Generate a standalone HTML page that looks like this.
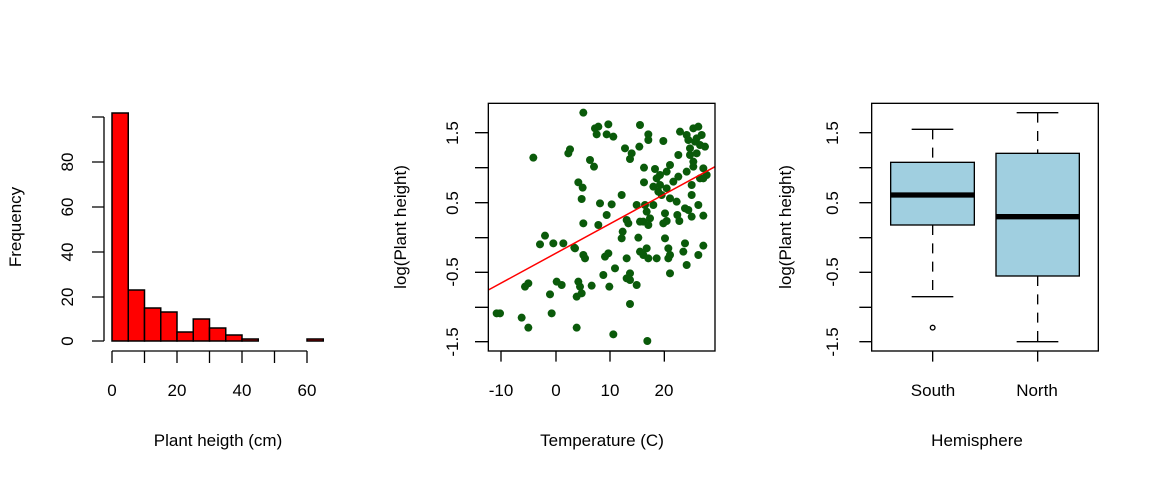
<!DOCTYPE html>
<html><head><meta charset="utf-8"><style>
html,body{margin:0;padding:0;background:#fff}
svg{display:block}
text{font-family:"Liberation Sans",Arial,sans-serif;font-size:17px;fill:#000}
</style></head><body>
<svg width="1152" height="480" xmlns="http://www.w3.org/2000/svg">
<!-- Histogram -->
<g stroke="#000" stroke-width="1.5" fill="#ff0000">
<rect x="112" y="113" width="16.25" height="228"/>
<rect x="128.25" y="290" width="16.25" height="51"/>
<rect x="144.5" y="308" width="16.25" height="33"/>
<rect x="160.75" y="312" width="16.25" height="29"/>
<rect x="177" y="332" width="16.25" height="9"/>
<rect x="193.25" y="319" width="16.25" height="22"/>
<rect x="209.5" y="328" width="16.25" height="13"/>
<rect x="225.75" y="335" width="16.25" height="6"/>
<rect x="242" y="339" width="16.25" height="2"/>
<rect x="258.25" y="341" width="16.25" height="0"/>
<rect x="274.5" y="341" width="16.25" height="0"/>
<rect x="290.75" y="341" width="16.25" height="0"/>
<rect x="307" y="339" width="16.25" height="2"/>
</g>
<g stroke="#000" stroke-width="1.3" fill="none">
<path d="M104 117V341 M92 117H104 M92 162H104 M92 207H104 M92 252H104 M92 297H104 M92 341H104"/>
<path d="M112 351H307 M112 351V363 M144.5 351V363 M177 351V363 M209.5 351V363 M242 351V363 M274.5 351V363 M307 351V363"/>
</g>
<g text-anchor="middle">
<text transform="translate(73,341) rotate(-90)">0</text>
<text transform="translate(73,297) rotate(-90)">20</text>
<text transform="translate(73,252) rotate(-90)">40</text>
<text transform="translate(73,207) rotate(-90)">60</text>
<text transform="translate(73,162) rotate(-90)">80</text>
<text x="112" y="396">0</text><text x="177" y="396">20</text><text x="242" y="396">40</text><text x="307" y="396">60</text>
<text x="218" y="446">Plant heigth (cm)</text>
<text transform="translate(21,227) rotate(-90)">Frequency</text>
</g>
<!-- Scatter -->
<g transform="translate(440,95) scale(0.33333)">
<g fill="#0a5a0a">
<circle cx="430" cy="53" r="12"/><circle cx="280" cy="188" r="12"/><circle cx="390" cy="163" r="12"/><circle cx="385" cy="175" r="12"/><circle cx="450" cy="195" r="12"/><circle cx="462" cy="215" r="12"/><circle cx="415" cy="262" r="12"/><circle cx="428" cy="278" r="12"/><circle cx="425" cy="312" r="12"/><circle cx="465" cy="100" r="12"/><circle cx="475" cy="95" r="12"/><circle cx="470" cy="118" r="12"/><circle cx="505" cy="88" r="12"/><circle cx="500" cy="118" r="12"/><circle cx="520" cy="125" r="12"/><circle cx="600" cy="90" r="12"/><circle cx="625" cy="118" r="12"/><circle cx="625" cy="135" r="12"/><circle cx="598" cy="155" r="12"/><circle cx="555" cy="160" r="12"/><circle cx="575" cy="175" r="12"/><circle cx="570" cy="192" r="12"/><circle cx="670" cy="138" r="12"/><circle cx="612" cy="218" r="12"/><circle cx="645" cy="222" r="12"/><circle cx="660" cy="240" r="12"/><circle cx="680" cy="230" r="12"/><circle cx="690" cy="210" r="12"/><circle cx="612" cy="262" r="12"/><circle cx="650" cy="250" r="12"/><circle cx="640" cy="275" r="12"/><circle cx="655" cy="290" r="12"/><circle cx="665" cy="300" r="12"/><circle cx="680" cy="280" r="12"/><circle cx="690" cy="310" r="12"/><circle cx="715" cy="245" r="12"/><circle cx="720" cy="110" r="12"/><circle cx="715" cy="180" r="12"/><circle cx="740" cy="120" r="12"/><circle cx="760" cy="100" r="12"/><circle cx="775" cy="95" r="12"/><circle cx="770" cy="130" r="12"/><circle cx="750" cy="160" r="12"/><circle cx="780" cy="150" r="12"/><circle cx="795" cy="155" r="12"/><circle cx="760" cy="200" r="12"/><circle cx="740" cy="230" r="12"/><circle cx="790" cy="220" r="12"/><circle cx="800" cy="240" r="12"/><circle cx="780" cy="250" r="12"/><circle cx="755" cy="270" r="12"/><circle cx="755" cy="300" r="12"/><circle cx="735" cy="340" r="12"/><circle cx="775" cy="330" r="12"/><circle cx="755" cy="365" r="12"/><circle cx="790" cy="362" r="12"/><circle cx="710" cy="320" r="12"/><circle cx="712" cy="360" r="12"/><circle cx="718" cy="378" r="12"/><circle cx="675" cy="355" r="12"/><circle cx="680" cy="378" r="12"/><circle cx="670" cy="385" r="12"/><circle cx="675" cy="430" r="12"/><circle cx="685" cy="460" r="12"/><circle cx="650" cy="490" r="12"/><circle cx="685" cy="490" r="12"/><circle cx="690" cy="535" r="12"/><circle cx="740" cy="510" r="12"/><circle cx="735" cy="445" r="12"/><circle cx="775" cy="480" r="12"/><circle cx="730" cy="470" r="12"/><circle cx="790" cy="452" r="12"/><circle cx="620" cy="460" r="12"/><circle cx="610" cy="480" r="12"/><circle cx="600" cy="470" r="12"/><circle cx="625" cy="490" r="12"/><circle cx="620" cy="350" r="12"/><circle cx="610" cy="380" r="12"/><circle cx="625" cy="390" r="12"/><circle cx="600" cy="380" r="12"/><circle cx="590" cy="330" r="12"/><circle cx="615" cy="330" r="12"/><circle cx="640" cy="330" r="12"/><circle cx="595" cy="428" r="12"/><circle cx="560" cy="375" r="12"/><circle cx="565" cy="385" r="12"/><circle cx="548" cy="410" r="12"/><circle cx="545" cy="430" r="12"/><circle cx="545" cy="300" r="12"/><circle cx="500" cy="360" r="12"/><circle cx="480" cy="325" r="12"/><circle cx="515" cy="328" r="12"/><circle cx="475" cy="390" r="12"/><circle cx="430" cy="385" r="12"/><circle cx="405" cy="460" r="12"/><circle cx="430" cy="480" r="12"/><circle cx="435" cy="490" r="12"/><circle cx="495" cy="485" r="12"/><circle cx="505" cy="475" r="12"/><circle cx="525" cy="520" r="12"/><circle cx="490" cy="540" r="12"/><circle cx="560" cy="490" r="12"/><circle cx="570" cy="535" r="12"/><circle cx="560" cy="550" r="12"/><circle cx="570" cy="555" r="12"/><circle cx="590" cy="570" r="12"/><circle cx="508" cy="575" r="12"/><circle cx="455" cy="572" r="12"/><circle cx="415" cy="560" r="12"/><circle cx="420" cy="575" r="12"/><circle cx="425" cy="595" r="12"/><circle cx="410" cy="605" r="12"/><circle cx="365" cy="570" r="12"/><circle cx="350" cy="560" r="12"/><circle cx="330" cy="598" r="12"/><circle cx="335" cy="655" r="12"/><circle cx="265" cy="565" r="12"/><circle cx="255" cy="575" r="12"/><circle cx="315" cy="422" r="12"/><circle cx="300" cy="448" r="12"/><circle cx="340" cy="445" r="12"/><circle cx="370" cy="445" r="12"/><circle cx="403" cy="458" r="12"/><circle cx="245" cy="668" r="12"/><circle cx="265" cy="698" r="12"/><circle cx="170" cy="655" r="12"/><circle cx="180" cy="655" r="12"/><circle cx="410" cy="698" r="12"/><circle cx="520" cy="718" r="12"/><circle cx="622" cy="738" r="12"/><circle cx="570" cy="627" r="12"/><circle cx="765" cy="140" r="12"/><circle cx="750" cy="180" r="12"/><circle cx="770" cy="175" r="12"/><circle cx="745" cy="135" r="12"/><circle cx="785" cy="120" r="12"/><circle cx="760" cy="215" r="12"/><circle cx="790" cy="250" r="12"/><circle cx="700" cy="260" r="12"/><circle cx="660" cy="270" r="12"/><circle cx="630" cy="370" r="12"/><circle cx="690" cy="480" r="12"/><circle cx="745" cy="345" r="12"/>
</g>
<path d="M145 585L825 215" stroke="#ff0000" stroke-width="4.5"/>
<g stroke="#000" stroke-width="4" fill="none">
<rect x="145" y="25" width="680" height="743"/>
<path d="M105 113H145M105 218H145M105 323H145M105 428H145M105 532H145M105 637H145M105 740H145"/>
<path d="M183 768V800M348 768V800M510 768V800M673 768V800M183 768H673"/>
</g>
</g>
<g text-anchor="middle">
<text transform="translate(458,133) rotate(-90)">1.5</text>
<text transform="translate(458,203) rotate(-90)">0.5</text>
<text transform="translate(458,272) rotate(-90)">-0.5</text>
<text transform="translate(458,342) rotate(-90)">-1.5</text>
<text x="501" y="396">-10</text><text x="556" y="396">0</text><text x="610" y="396">10</text><text x="664" y="396">20</text>
<text x="602" y="446">Temperature (C)</text>
<text transform="translate(406,227) rotate(-90)">log(Plant height)</text>
</g>
<!-- Boxplot -->
<g transform="translate(820,95) scale(0.33333)">
<g stroke="#000" stroke-width="4" fill="none">
<rect x="212" y="202" width="251" height="188" fill="#a0cfe0"/>
<rect x="528" y="175" width="250" height="368" fill="#a0cfe0"/>
<path d="M338 103V202M338 390V605M653 53V175M653 543V740" stroke-dasharray="30,25"/>
<path d="M275 103H400M275 605H400M590 53H715M590 740H715"/>
<circle cx="338" cy="698" r="7"/>
<rect x="155" y="25" width="680" height="743"/>
<path d="M118 113H155M118 218H155M118 323H155M118 428H155M118 532H155M118 637H155M118 740H155"/>
<path d="M338 768V800M653 768V800"/>
</g>
<path d="M212 300H463M528 365H778" stroke="#000" stroke-width="16"/>
</g>
<g text-anchor="middle">
<text transform="translate(838,133) rotate(-90)">1.5</text>
<text transform="translate(838,203) rotate(-90)">0.5</text>
<text transform="translate(838,272) rotate(-90)">-0.5</text>
<text transform="translate(838,342) rotate(-90)">-1.5</text>
<text x="933" y="396">South</text><text x="1037" y="396">North</text>
<text x="977" y="446">Hemisphere</text>
<text transform="translate(791,227) rotate(-90)">log(Plant height)</text>
</g>
</svg>
</body></html>
